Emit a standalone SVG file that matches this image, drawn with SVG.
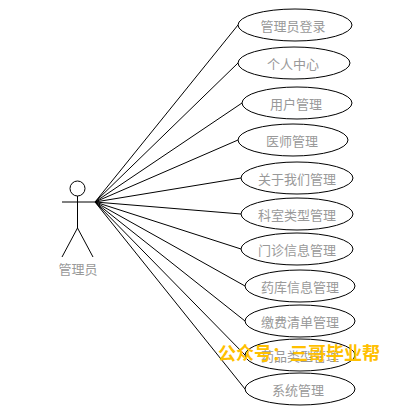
<svg xmlns="http://www.w3.org/2000/svg" width="417" height="410" viewBox="0 0 417 410">
<style>
.uc{fill:#fff;stroke:#000;stroke-width:1}
.t{font-family:"Noto Sans CJK SC","Liberation Sans",sans-serif;font-size:13px;fill:#999;text-anchor:middle;dominant-baseline:central}
.c{stroke:#000;stroke-width:1;fill:none}
</style>
<rect width="417" height="410" fill="#fff"/>
<g id="connectors">
<line class="c" x1="95" y1="202" x2="238" y2="25"/>
<line class="c" x1="95" y1="202" x2="238" y2="63"/>
<line class="c" x1="95" y1="202" x2="242" y2="103"/>
<line class="c" x1="95" y1="202" x2="238" y2="140"/>
<line class="c" x1="95" y1="202" x2="241" y2="178"/>
<line class="c" x1="95" y1="202" x2="241" y2="214"/>
<line class="c" x1="95" y1="202" x2="241" y2="249"/>
<line class="c" x1="95" y1="202" x2="245" y2="286"/>
<line class="c" x1="95" y1="202" x2="245" y2="321"/>
<line class="c" x1="95" y1="202" x2="245" y2="355"/>
<line class="c" x1="95" y1="202" x2="245" y2="389"/>
</g>
<g id="actor">
<circle class="c" cx="77.5" cy="188.5" r="7.5"/>
<line class="c" x1="62" y1="202" x2="95" y2="202"/>
<line class="c" x1="77.5" y1="196" x2="77.5" y2="228"/>
<line class="c" x1="77.5" y1="228" x2="62" y2="257"/>
<line class="c" x1="77.5" y1="228" x2="93" y2="257"/>
<text class="t" x="78" y="268">管理员</text>
</g>
<g id="uc1"><ellipse class="uc" cx="295" cy="25" rx="57" ry="16"/><text class="t" x="293" y="25">管理员登录</text></g>
<g id="uc2"><ellipse class="uc" cx="294" cy="63" rx="56" ry="16"/><text class="t" x="293" y="63">个人中心</text></g>
<g id="uc3"><ellipse class="uc" cx="297" cy="103" rx="55" ry="16"/><text class="t" x="296" y="103">用户管理</text></g>
<g id="uc4"><ellipse class="uc" cx="293" cy="140" rx="55" ry="16"/><text class="t" x="292" y="140">医师管理</text></g>
<g id="uc5"><ellipse class="uc" cx="297" cy="178" rx="56" ry="16"/><text class="t" x="297" y="178">关于我们管理</text></g>
<g id="uc6"><ellipse class="uc" cx="297" cy="214" rx="56" ry="16"/><text class="t" x="297" y="214">科室类型管理</text></g>
<g id="uc7"><ellipse class="uc" cx="297" cy="249" rx="56" ry="16"/><text class="t" x="297" y="249">门诊信息管理</text></g>
<g id="uc8"><ellipse class="uc" cx="300" cy="286" rx="55" ry="16"/><text class="t" x="300" y="286">药库信息管理</text></g>
<g id="uc9"><ellipse class="uc" cx="300" cy="321" rx="55" ry="16"/><text class="t" x="300" y="321">缴费清单管理</text></g>
<g id="uc10"><ellipse class="uc" cx="300" cy="355" rx="55" ry="16"/><text class="t" x="300" y="355">药品类型管理</text></g>
<g id="uc11"><ellipse class="uc" cx="300" cy="389" rx="55" ry="16"/><text class="t" x="298" y="389">系统管理</text></g>
<text x="218" y="360" style="font-family:'Noto Sans CJK SC',sans-serif;font-size:18px;font-weight:bold;fill:#ffc000">公众号：三哥毕业帮</text>
</svg>
